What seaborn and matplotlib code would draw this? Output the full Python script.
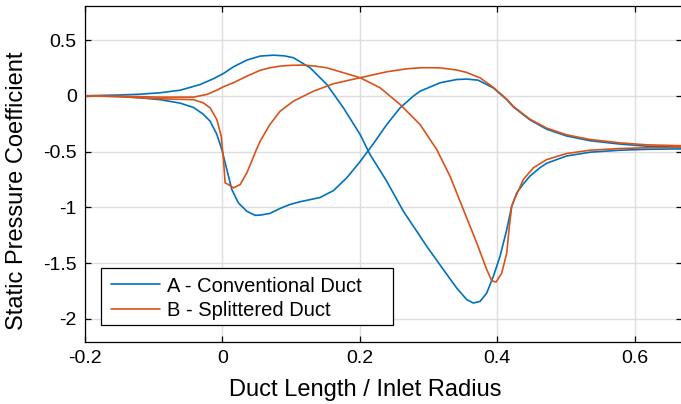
import numpy as np
import pandas as pd
import matplotlib
matplotlib.use("Agg")
import matplotlib.pyplot as plt
import seaborn as sns
from matplotlib.lines import Line2D
from matplotlib.patches import Rectangle

# ---- data ----
a1_x = [-0.2, -0.15, -0.12, -0.0906, -0.0615, -0.0324, -0.0131, 0.0015, 0.016, 0.0355, 0.0548, 0.0742,
        0.09, 0.1033, 0.1276, 0.1519, 0.176, 0.2003, 0.2148, 0.2391, 0.2633, 0.273, 0.2973, 0.3215,
        0.3409, 0.3555, 0.3651, 0.3748, 0.3846, 0.3942, 0.4039, 0.4137, 0.4209, 0.4282, 0.4378, 0.4475,
        0.462, 0.4718, 0.5006, 0.5349, 0.5785, 0.6173, 0.669]
a1_y = [0.0, 0.007, 0.014, 0.027, 0.05, 0.101, 0.153, 0.20, 0.26, 0.32, 0.356, 0.364,
        0.358, 0.341, 0.251, 0.101, -0.108, -0.347, -0.527, -0.767, -1.036, -1.125, -1.35, -1.559,
        -1.724, -1.828, -1.858, -1.844, -1.768, -1.619, -1.44, -1.20, -0.991, -0.871, -0.79, -0.72,
        -0.645, -0.605, -0.54, -0.506, -0.488, -0.48, -0.476]

a2_x = [-0.2, -0.15, -0.12, -0.0906, -0.0615, -0.042, -0.028, -0.0179, -0.0082, -0.0009, 0.0064,
        0.0137, 0.0233, 0.0355, 0.0476, 0.0548, 0.069, 0.0839, 0.098, 0.113, 0.1421, 0.1615, 0.1809,
        0.2003, 0.2196, 0.2391, 0.2585, 0.2778, 0.2876, 0.317, 0.340, 0.355, 0.372, 0.3942, 0.4137,
        0.4233, 0.4475, 0.4718, 0.5006, 0.5349, 0.5785, 0.6173, 0.669]
a2_y = [0.0, -0.006, -0.018, -0.035, -0.066, -0.105, -0.165, -0.228, -0.345, -0.482, -0.662,
        -0.841, -0.961, -1.036, -1.072, -1.07, -1.055, -1.01, -0.975, -0.95, -0.912, -0.85, -0.736,
        -0.59, -0.43, -0.258, -0.108, -0.003, 0.041, 0.117, 0.145, 0.15, 0.14, 0.07, -0.035,
        -0.10, -0.216, -0.30, -0.36, -0.403, -0.433, -0.452, -0.462]

b1_x = [-0.2, -0.15, -0.0906, -0.042, -0.0227, -0.0082, 0.0015, 0.016, 0.0355, 0.0548, 0.069, 0.0839,
        0.1, 0.1178, 0.135, 0.1519, 0.2003, 0.2294, 0.2585, 0.2876, 0.3118, 0.3312, 0.3506, 0.37,
        0.3846, 0.3918, 0.3981, 0.4064, 0.4137, 0.4175, 0.4209, 0.4258, 0.4378, 0.4524, 0.4718,
        0.5006, 0.5349, 0.5785, 0.6173, 0.669]
b1_y = [0.0, -0.004, -0.012, -0.012, 0.012, 0.05, 0.081, 0.117, 0.176, 0.228, 0.251, 0.266,
        0.273, 0.275, 0.266, 0.251, 0.162, 0.072, -0.078, -0.258, -0.482, -0.722, -1.021, -1.319,
        -1.559, -1.658, -1.67, -1.589, -1.41, -1.17, -0.991, -0.916, -0.751, -0.646, -0.572,
        -0.518, -0.488, -0.473, -0.466, -0.461]

b2_x = [-0.2, -0.15, -0.0906, -0.042, -0.028, -0.0179, -0.0082, -0.0018, 0.0015, 0.0039, 0.0087,
        0.016, 0.0258, 0.0355, 0.0495, 0.0548, 0.069, 0.0839, 0.1033, 0.1324, 0.1615, 0.2003, 0.2391,
        0.2682, 0.2876, 0.30, 0.317, 0.34, 0.355, 0.375, 0.3942, 0.4137, 0.4233, 0.4475, 0.4718,
        0.5006, 0.5349, 0.5785, 0.6173, 0.669]
b2_y = [0.0, -0.008, -0.027, -0.035, -0.063, -0.108, -0.213, -0.362, -0.572, -0.781, -0.796,
        -0.826, -0.796, -0.691, -0.482, -0.408, -0.258, -0.138, -0.048, 0.041, 0.108, 0.162, 0.215,
        0.242, 0.251, 0.252, 0.25, 0.232, 0.21, 0.16, 0.075, -0.03, -0.095, -0.21, -0.29,
        -0.35, -0.392, -0.422, -0.44, -0.448]

series_names = ["A - Conventional Duct", "B - Splittered Duct"]
colors = ["#0072BD", "#D95319"]
x_ticks = [-0.2, 0, 0.2, 0.4, 0.6]
x_tick_labels = ["-0.2", "0", "0.2", "0.4", "0.6"]
y_ticks = [0.5, 0, -0.5, -1, -1.5, -2]
y_tick_labels = ["0.5", "0", "-0.5", "-1", "-1.5", "-2"]

frames = []
for name, surf, xs, ys in [(series_names[0], "A1", a1_x, a1_y), (series_names[0], "A2", a2_x, a2_y),
                           (series_names[1], "B1", b1_x, b1_y), (series_names[1], "B2", b2_x, b2_y)]:
    frames.append(pd.DataFrame({"x": xs, "y": ys, "duct": name, "surface": surf}))
df = pd.concat(frames, ignore_index=True)

sns.set_style("white")
plt.rcParams["font.family"] = ["Liberation Sans", "DejaVu Sans"]
plt.rcParams["axes.unicode_minus"] = False
for k in ["text.color", "axes.labelcolor", "xtick.color", "ytick.color", "axes.edgecolor"]:
    plt.rcParams[k] = "black"

fig = plt.figure(figsize=(6.81, 4.04), dpi=100)
ax_left, ax_right, ax_top, ax_bottom = 85.0, 682.0, 6.0, 341.7
ax = fig.add_axes([ax_left / 681, 1 - ax_bottom / 404, (ax_right - ax_left) / 681, (ax_bottom - ax_top) / 404])

sns.lineplot(data=df, x="x", y="y", hue="duct", units="surface", estimator=None, sort=False,
             palette=colors, hue_order=series_names, linewidth=1.2, legend=False, ax=ax)

ax.set_xlim(-0.2, 0.6687)
ax.set_ylim(-2.205, 0.805)
ax.set_xticks(x_ticks)
ax.set_xticklabels(x_tick_labels)
ax.set_yticks(y_ticks)
ax.set_yticklabels(y_tick_labels)
ax.grid(True, color="#dedede", linewidth=1.0)
ax.set_axisbelow(True)
for s in ax.spines.values():
    s.set_visible(True)
    s.set_color("black")
    s.set_linewidth(0.9)
ax.tick_params(direction="in", length=4.5, width=0.9, top=True, right=True, bottom=True, left=True,
               labelsize=14, colors="black", pad=6)
ax.set_xlabel("Duct Length / Inlet Radius", fontsize=17, va="center", ha="center")
ax.xaxis.set_label_coords((365 - ax_left) / (ax_right - ax_left), (ax_bottom - 390) / (ax_bottom - ax_top))
ax.set_ylabel("Static Pressure Coefficient", fontsize=17, va="center", ha="center")
ax.yaxis.set_label_coords((17.5 - ax_left) / (ax_right - ax_left), (ax_bottom - 191) / (ax_bottom - ax_top))

# legend box (MATLAB style, wider than its contents)
W = ax_right - ax_left
H = ax_bottom - ax_top
ax.add_patch(Rectangle(((101 - ax_left) / W, (ax_bottom - 325) / H), (393 - 101) / W, (325 - 268.3) / H,
                       transform=ax.transAxes, facecolor="white", edgecolor="black", linewidth=0.9,
                       zorder=4))
handles = [Line2D([0], [0], color=c, lw=1.2) for c in colors]
leg = ax.legend(handles, series_names, loc="upper left",
                bbox_to_anchor=((111 - ax_left) / W, (ax_bottom - 276.5) / H),
                borderaxespad=0, borderpad=0, fontsize=14.5, frameon=False,
                handlelength=2.45, handletextpad=0.35, labelspacing=0.27)
leg.set_zorder(5)

fig.savefig("out.png", dpi=100)
